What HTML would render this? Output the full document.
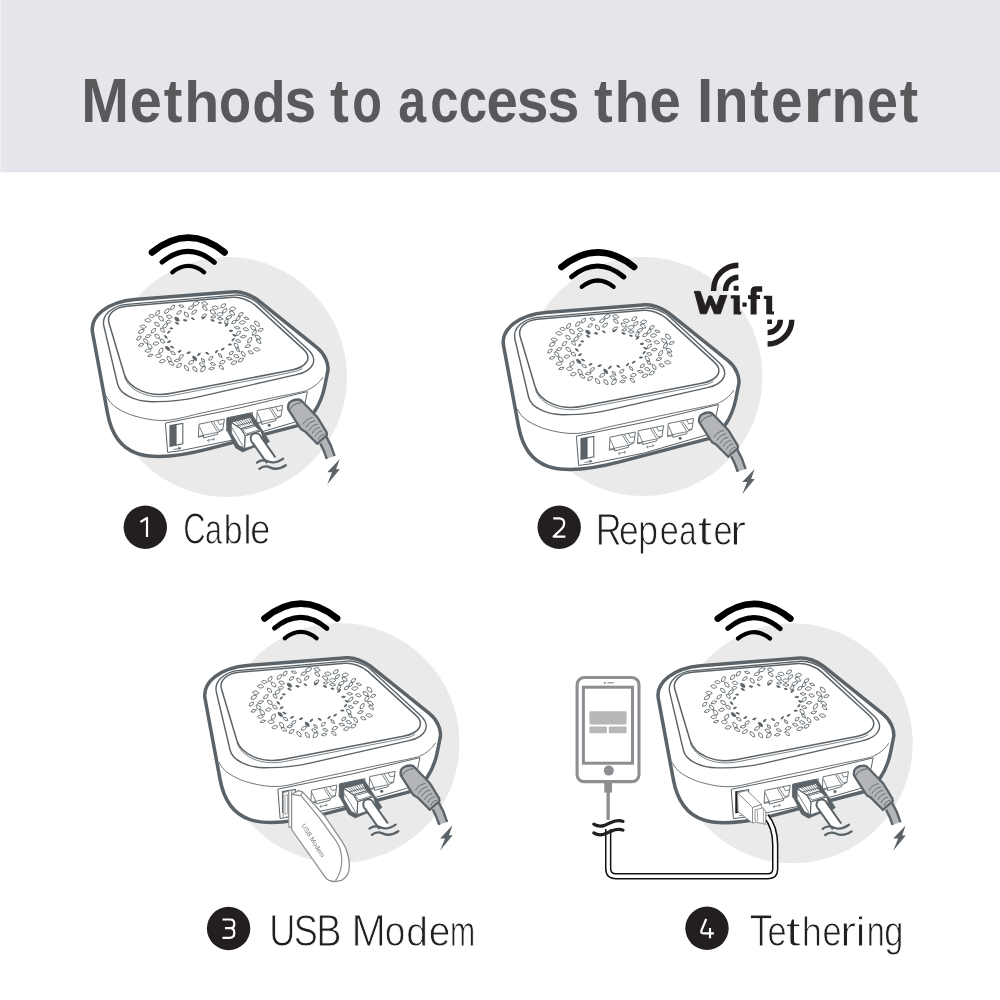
<!DOCTYPE html>
<html><head><meta charset="utf-8"><title>Methods to access the Internet</title>
<style>html,body{margin:0;padding:0;background:#fff;width:1000px;height:1000px;overflow:hidden}svg{display:block;will-change:transform}</style>
</head><body>
<svg width="1000" height="1000" viewBox="0 0 1000 1000">
<defs>
<g id="router"><path d="M92.57,332.7C89.51,316.18 108.16,301.56 134.95,299.47L234.24,291.73C240.94,291.21 251.35,294.93 257.9,300.19L317.04,347.66C324.47,353.62 329.19,363.91 327.77,371.05L324.81,385.97C321,405.19 309.49,422.52 298.65,425.35L209.45,448.65C143.97,465.75 115.43,455.88 107.55,413.41L92.57,332.7Z" fill="#fff" stroke="#5b6368" stroke-width="3.5" stroke-linejoin="round"/>
<path d="M106.2,396C106.92,397.08 108.7,400.5 110.5,402.5C112.3,404.5 114.42,406.28 117,408C119.58,409.72 122.83,411.4 126,412.8C129.17,414.2 131.67,415.23 136,416.4C140.33,417.57 147,419.13 152,419.8C157,420.47 161.33,420.67 166,420.4C170.67,420.13 173.5,419.55 180,418.2C186.5,416.85 190,415.6 205,412.3C220,409 254.17,401.75 270,398.4C285.83,395.05 293.58,393.67 300,392.2C306.42,390.73 306,390.7 308.5,389.6C311,388.5 313.17,386.95 315,385.6C316.83,384.25 318.17,382.93 319.5,381.5C320.83,380.07 322.42,377.75 323,377" fill="none" stroke="#5b6368" stroke-width="0.9"/>
<path d="M103.91,326.26C101.33,315.36 111.57,305.74 127.2,304.4L234.95,295.12C242.2,294.49 252.43,298.18 258.19,303.5L307.76,349.28C318.87,359.54 313.87,370.72 296.4,374.69L197.5,397.17C186.58,399.65 169.2,401.63 158,401.67L151.8,401.69C135,401.75 119.97,394.09 117.65,384.28L103.91,326.26Z" fill="none" stroke="#5b6368" stroke-width="1.4"/>
<path d="M109.07,323.33C106.51,314.75 114.15,307.19 126.42,306.16L232.45,297.28C239.7,296.68 249.95,300.36 255.73,305.65L303.23,349.08C312.73,357.77 307.24,367.1 290.74,370.29L171.47,393.32C149.48,397.56 128.68,389.09 124.2,374.07L109.07,323.33Z" fill="none" stroke="#5b6368" stroke-width="1.5"/>
<path d="M124.4,376.37 L125.04,378.21 L125.85,379.98 L126.81,381.68 L127.93,383.31 L129.19,384.85 L130.58,386.31 L132.11,387.69 L133.76,388.98 L135.53,390.18 L137.41,391.29 L139.39,392.3 L141.47,393.22 L143.64,394.03 L145.9,394.75 L148.23,395.35 L150.64,395.85 L153.11,396.24 L155.64,396.51 L158.22,396.67 L160.85,396.71 L163.51,396.63 L166.21,396.42 L168.93,396.08 L171.67,395.62 L176.64,394.66 L181.61,393.7 L186.58,392.74 L191.55,391.78 L196.52,390.82 L201.49,389.86 L206.46,388.9 L211.43,387.94 L216.4,386.98 L221.37,386.02 L226.34,385.06 L231.31,384.1 L236.28,383.14 L241.25,382.18 L246.22,381.22 L251.19,380.26 L256.16,379.3 L261.13,378.34 L266.1,377.39 L271.07,376.43 L276.04,375.47 L281,374.51 L296.61,371.12 L298.26,370.51 L299.78,369.86 L301.19,369.15 L302.47,368.4" fill="none" stroke="#5b6368" stroke-width="0.8"/>
<g stroke="#5b6368" stroke-width="0.8"><path transform="translate(181.26,356.46) rotate(-38.54)" d="M-2.71,0Q0,-2.91 2.71,0Q0,2.91 -2.71,0Z" fill="none"/><path transform="translate(176.96,319.21) rotate(38)" d="M-2.87,0Q0,-3.17 2.87,0Q0,3.17 -2.87,0Z" fill="#5b6368"/><path transform="translate(153.42,330.68) rotate(-42.81)" d="M-3.17,0Q0,-3.08 3.17,0Q0,3.08 -3.17,0Z" fill="none"/><path transform="translate(247.94,346.19) rotate(-16.25)" d="M-3.18,0Q0,-3.08 3.18,0Q0,3.08 -3.18,0Z" fill="none"/><path transform="translate(236.29,345.52) rotate(50.68)" d="M-3.23,0Q0,-3.35 3.23,0Q0,3.35 -3.23,0Z" fill="none"/><path transform="translate(147.99,350.7) rotate(-4.86)" d="M-3.17,0Q0,-3.2 3.17,0Q0,3.2 -3.17,0Z" fill="none"/><path transform="translate(231.32,352.92) rotate(-39.18)" d="M-2.69,0Q0,-2.84 2.69,0Q0,2.84 -2.69,0Z" fill="none"/><path transform="translate(157.56,312.97) rotate(-55.7)" d="M-3.16,0Q0,-3.31 3.16,0Q0,3.31 -3.16,0Z" fill="none"/><path transform="translate(157.01,324.29) rotate(42.03)" d="M-2.98,0Q0,-3.31 2.98,0Q0,3.31 -2.98,0Z" fill="none"/><path transform="translate(238.28,333.32) rotate(-46.64)" d="M-3.18,0Q0,-2.94 3.18,0Q0,2.94 -3.18,0Z" fill="none"/><path transform="translate(228.84,317.36) rotate(-26.71)" d="M-3.32,0Q0,-3.18 3.32,0Q0,3.18 -3.32,0Z" fill="none"/><path transform="translate(179.08,365.5) rotate(-37.11)" d="M-3.16,0Q0,-3.19 3.16,0Q0,3.19 -3.16,0Z" fill="none"/><path transform="translate(222.37,362.16) rotate(-19.42)" d="M-3.08,0Q0,-3.34 3.08,0Q0,3.34 -3.08,0Z" fill="none"/><path transform="translate(169.18,316.72) rotate(13.34)" d="M-3.03,0Q0,-3.36 3.03,0Q0,3.36 -3.03,0Z" fill="none"/><path transform="translate(162.53,330.19) rotate(47.44)" d="M-2.83,0Q0,-2.92 2.83,0Q0,2.92 -2.83,0Z" fill="none"/><path transform="translate(179.1,312.46) rotate(-37.39)" d="M-2.84,0Q0,-2.73 2.84,0Q0,2.73 -2.84,0Z" fill="none"/><path transform="translate(155.92,343.55) rotate(-11.13)" d="M-3,0Q0,-3.24 3,0Q0,3.24 -3,0Z" fill="none"/><path transform="translate(215.33,307.72) rotate(9.76)" d="M-3.29,0Q0,-3.51 3.29,0Q0,3.51 -3.29,0Z" fill="none"/><path transform="translate(201.96,364.7) rotate(29.01)" d="M-3.1,0Q0,-3.19 3.1,0Q0,3.19 -3.1,0Z" fill="none"/><path transform="translate(141.27,331.38) rotate(-30.65)" d="M-3.29,0Q0,-3.64 3.29,0Q0,3.64 -3.29,0Z" fill="none"/><path transform="translate(194.11,312.11) rotate(-41.73)" d="M-3.16,0Q0,-3 3.16,0Q0,3 -3.16,0Z" fill="none"/><path transform="translate(229.38,358.63) rotate(14.89)" d="M-3.05,0Q0,-2.89 3.05,0Q0,2.89 -3.05,0Z" fill="none"/><path transform="translate(204.83,308.22) rotate(40.2)" d="M-3.15,0Q0,-3 3.15,0Q0,3 -3.15,0Z" fill="none"/><path transform="translate(232.62,308.87) rotate(-10.01)" d="M-3.27,0Q0,-3.66 3.27,0Q0,3.66 -3.27,0Z" fill="none"/><path transform="translate(145.79,341.17) rotate(50)" d="M-3.13,0Q0,-3.39 3.13,0Q0,3.39 -3.13,0Z" fill="none"/><path transform="translate(219.94,314.41) rotate(-3.41)" d="M-3.35,0Q0,-3.7 3.35,0Q0,3.7 -3.35,0Z" fill="none"/><path transform="translate(158.54,355.78) rotate(2.79)" d="M-3.26,0Q0,-3.65 3.26,0Q0,3.65 -3.26,0Z" fill="none"/><path transform="translate(249.69,340.2) rotate(-55.8)" d="M-3.4,0Q0,-3.35 3.4,0Q0,3.35 -3.4,0Z" fill="none"/><path transform="translate(220.14,355.46) rotate(47.15)" d="M-2.79,0Q0,-2.64 2.79,0Q0,2.64 -2.79,0Z" fill="none"/><path transform="translate(143.21,326.64) rotate(8.55)" d="M-3.28,0Q0,-3.42 3.28,0Q0,3.42 -3.28,0Z" fill="none"/><path transform="translate(191.29,362.25) rotate(-33.92)" d="M-3.14,0Q0,-3.19 3.14,0Q0,3.19 -3.14,0Z" fill="none"/><path transform="translate(162.33,361.17) rotate(-15.41)" d="M-3.16,0Q0,-3.25 3.16,0Q0,3.25 -3.16,0Z" fill="none"/><path transform="translate(253.13,327.76) rotate(38.98)" d="M-3.27,0Q0,-3.63 3.27,0Q0,3.63 -3.27,0Z" fill="none"/><path transform="translate(246.39,318.24) rotate(16.78)" d="M-2.8,0Q0,-2.64 2.8,0Q0,2.64 -2.8,0Z" fill="none"/><path transform="translate(240.78,314.43) rotate(-35.76)" d="M-2.95,0Q0,-3.08 2.95,0Q0,3.08 -2.95,0Z" fill="none"/><path transform="translate(243.18,354) rotate(56.17)" d="M-3.11,0Q0,-3.11 3.11,0Q0,3.11 -3.11,0Z" fill="none"/><path transform="translate(210.82,358.26) rotate(-43.1)" d="M-2.83,0Q0,-2.86 2.83,0Q0,2.86 -2.83,0Z" fill="none"/><path transform="translate(258.69,341.48) rotate(37.44)" d="M-3.03,0Q0,-2.82 3.03,0Q0,2.82 -3.03,0Z" fill="none"/><path transform="translate(168.47,321.69) rotate(-5.59)" d="M-2.76,0Q0,-3.02 2.76,0Q0,3.02 -2.76,0Z" fill="none"/><path transform="translate(173.01,352.97) rotate(35.66)" d="M-2.84,0Q0,-2.66 2.84,0Q0,2.66 -2.84,0Z" fill="none"/><path transform="translate(223.26,305.8) rotate(-36.55)" d="M-3.15,0Q0,-3.29 3.15,0Q0,3.29 -3.15,0Z" fill="none"/><path transform="translate(256.99,323.65) rotate(49.01)" d="M-3.5,0Q0,-3.78 3.5,0Q0,3.78 -3.5,0Z" fill="none"/><path transform="translate(245.86,329.27) rotate(13.13)" d="M-2.9,0Q0,-3.18 2.9,0Q0,3.18 -2.9,0Z" fill="none"/><path transform="translate(166.86,310.99) rotate(-45.36)" d="M-3.23,0Q0,-3.3 3.23,0Q0,3.3 -3.23,0Z" fill="none"/><path transform="translate(171.3,363.34) rotate(33)" d="M-3.24,0Q0,-2.99 3.24,0Q0,2.99 -3.24,0Z" fill="none"/><path transform="translate(150.39,355.35) rotate(-17.53)" d="M-2.87,0Q0,-2.64 2.87,0Q0,2.64 -2.87,0Z" fill="none"/><path transform="translate(254.36,332.78) rotate(-53.53)" d="M-3.22,0Q0,-3.22 3.22,0Q0,3.22 -3.22,0Z" fill="none"/><path transform="translate(169.16,359.01) rotate(55.88)" d="M-3.33,0Q0,-3.65 3.33,0Q0,3.65 -3.33,0Z" fill="none"/><path transform="translate(240.9,360.04) rotate(-34.74)" d="M-3.1,0Q0,-3.24 3.1,0Q0,3.24 -3.1,0Z" fill="none"/><path transform="translate(147.98,320.31) rotate(8.2)" d="M-3.27,0Q0,-3.59 3.27,0Q0,3.59 -3.27,0Z" fill="none"/><path transform="translate(148.12,336.11) rotate(-17.48)" d="M-3.21,0Q0,-3.08 3.21,0Q0,3.08 -3.21,0Z" fill="none"/><path transform="translate(257.86,337.17) rotate(30.5)" d="M-3.43,0Q0,-3.3 3.43,0Q0,3.3 -3.43,0Z" fill="none"/><path transform="translate(242.41,322.48) rotate(-6.81)" d="M-3.33,0Q0,-3.53 3.33,0Q0,3.53 -3.33,0Z" fill="none"/><path transform="translate(161.03,318.57) rotate(45.11)" d="M-3.31,0Q0,-3.6 3.31,0Q0,3.6 -3.31,0Z" fill="none"/><path transform="translate(181.34,306.15) rotate(13.78)" d="M-2.87,0Q0,-2.68 2.87,0Q0,2.68 -2.87,0Z" fill="none"/><path transform="translate(211.59,368.5) rotate(-7.91)" d="M-2.91,0Q0,-2.95 2.91,0Q0,2.95 -2.91,0Z" fill="none"/><path transform="translate(256.74,349.39) rotate(7.24)" d="M-3.45,0Q0,-3.36 3.45,0Q0,3.36 -3.45,0Z" fill="none"/><path transform="translate(194.71,358.31) rotate(49.13)" d="M-2.93,0Q0,-2.87 2.93,0Q0,2.87 -2.93,0Z" fill="#5b6368"/><path transform="translate(157.32,336.39) rotate(40.48)" d="M-3.16,0Q0,-3.45 3.16,0Q0,3.45 -3.16,0Z" fill="none"/><path transform="translate(237.19,327.73) rotate(6.93)" d="M-3.01,0Q0,-2.91 3.01,0Q0,2.91 -3.01,0Z" fill="none"/><path transform="translate(160.92,350.68) rotate(-56.7)" d="M-3.26,0Q0,-3.61 3.26,0Q0,3.61 -3.26,0Z" fill="none"/><path transform="translate(250.68,352.33) rotate(24.19)" d="M-2.86,0Q0,-2.86 2.86,0Q0,2.86 -2.86,0Z" fill="none"/><path transform="translate(194.91,369.08) rotate(51.51)" d="M-3.2,0Q0,-3.34 3.2,0Q0,3.34 -3.2,0Z" fill="none"/><path transform="translate(191.19,307.62) rotate(-26.32)" d="M-3.12,0Q0,-3.08 3.12,0Q0,3.08 -3.12,0Z" fill="none"/><path transform="translate(196.07,303.53) rotate(-20.99)" d="M-3.51,0Q0,-3.68 3.51,0Q0,3.68 -3.51,0Z" fill="none"/><path transform="translate(233.98,322.04) rotate(-35.32)" d="M-2.75,0Q0,-3.02 2.75,0Q0,3.02 -2.75,0Z" fill="none"/><path transform="translate(212.96,363.95) rotate(19.41)" d="M-2.86,0Q0,-2.91 2.86,0Q0,2.91 -2.86,0Z" fill="none"/><path transform="translate(186.52,368.1) rotate(51.38)" d="M-3.46,0Q0,-3.25 3.46,0Q0,3.25 -3.46,0Z" fill="none"/><path transform="translate(203.07,360.41) rotate(47.21)" d="M-2.7,0Q0,-2.71 2.7,0Q0,2.71 -2.7,0Z" fill="none"/><path transform="translate(204.03,315.89) rotate(-34.93)" d="M-3,0Q0,-2.98 3,0Q0,2.98 -3,0Z" fill="none"/><path transform="translate(238.28,340.96) rotate(18.51)" d="M-2.81,0Q0,-3.11 2.81,0Q0,3.11 -2.81,0Z" fill="none"/><path transform="translate(234.05,362.63) rotate(-21.41)" d="M-3.2,0Q0,-3.4 3.2,0Q0,3.4 -3.2,0Z" fill="none"/><path transform="translate(221.35,367.36) rotate(41.34)" d="M-3.04,0Q0,-2.84 3.04,0Q0,2.84 -3.04,0Z" fill="none"/><path transform="translate(138.95,338.07) rotate(-41.51)" d="M-3,0Q0,-2.92 3,0Q0,2.92 -3,0Z" fill="none"/><path transform="translate(232.06,313.2) rotate(34.75)" d="M-3.16,0Q0,-3.43 3.16,0Q0,3.43 -3.16,0Z" fill="none"/><path transform="translate(243.37,336.59) rotate(-9.9)" d="M-2.95,0Q0,-2.94 2.95,0Q0,2.94 -2.95,0Z" fill="none"/><path transform="translate(204.71,303.53) rotate(12.99)" d="M-3.19,0Q0,-3.52 3.19,0Q0,3.52 -3.19,0Z" fill="none"/><path transform="translate(172.57,307.46) rotate(-51.56)" d="M-3.04,0Q0,-3.18 3.04,0Q0,3.18 -3.04,0Z" fill="none"/><path transform="translate(141.14,344.86) rotate(-17.71)" d="M-3.02,0Q0,-2.98 3.02,0Q0,2.98 -3.02,0Z" fill="none"/><path transform="translate(220.17,318.7) rotate(4.98)" d="M-3.1,0Q0,-2.94 3.1,0Q0,2.94 -3.1,0Z" fill="none"/><path transform="translate(186.39,314.46) rotate(50.91)" d="M-3.16,0Q0,-3.41 3.16,0Q0,3.41 -3.16,0Z" fill="none"/><path transform="translate(165.14,325.89) rotate(-42.41)" d="M-3.15,0Q0,-3.38 3.15,0Q0,3.38 -3.15,0Z" fill="none"/><path transform="translate(167.74,348.43) rotate(41.31)" d="M-2.95,0Q0,-2.86 2.95,0Q0,2.86 -2.95,0Z" fill="#5b6368"/><path transform="translate(237.8,349.72) rotate(44.35)" d="M-2.9,0Q0,-2.74 2.9,0Q0,2.74 -2.9,0Z" fill="none"/><path transform="translate(177.28,360.47) rotate(-9.11)" d="M-3.14,0Q0,-2.98 3.14,0Q0,2.98 -3.14,0Z" fill="none"/><path transform="translate(212.82,312.01) rotate(34.15)" d="M-3.31,0Q0,-3.62 3.31,0Q0,3.62 -3.31,0Z" fill="none"/><path transform="translate(162.4,341.07) rotate(40.08)" d="M-2.88,0Q0,-3.11 2.88,0Q0,3.11 -2.88,0Z" fill="none"/><path transform="translate(151.69,315.96) rotate(6.06)" d="M-2.84,0Q0,-3.11 2.84,0Q0,3.11 -2.84,0Z" fill="none"/><path transform="translate(224.73,310.74) rotate(-43.78)" d="M-3.1,0Q0,-3 3.1,0Q0,3 -3.1,0Z" fill="none"/><path transform="translate(213.39,316.88) rotate(-7.75)" d="M-2.65,0Q0,-2.57 2.65,0Q0,2.57 -2.65,0Z" fill="none"/><path transform="translate(238.2,318.41) rotate(-52.71)" d="M-2.84,0Q0,-2.96 2.84,0Q0,2.96 -2.84,0Z" fill="none"/><path transform="translate(226.35,321.35) rotate(-55.03)" d="M-2.72,0Q0,-2.95 2.72,0Q0,2.95 -2.72,0Z" fill="none"/><path transform="translate(149.75,346.35) rotate(47.2)" d="M-3.25,0Q0,-3.59 3.25,0Q0,3.59 -3.25,0Z" fill="none"/><path transform="translate(260.62,329.91) rotate(-21.98)" d="M-2.84,0Q0,-2.77 2.84,0Q0,2.77 -2.84,0Z" fill="none"/><path transform="translate(203.04,369.07) rotate(-48.09)" d="M-3.47,0Q0,-3.71 3.47,0Q0,3.71 -3.47,0Z" fill="none"/><path transform="translate(236.37,356.2) rotate(21.26)" d="M-2.95,0Q0,-3.14 2.95,0Q0,3.14 -2.95,0Z" fill="none"/><path transform="translate(233.1,339.57) rotate(-49.24)" d="M-1.82,0Q0,-1.53 1.82,0Q0,1.53 -1.82,0Z" fill="#5b6368"/><path transform="translate(229.92,344.53) rotate(0.29)" d="M-1.83,0Q0,-1.54 1.83,0Q0,1.54 -1.83,0Z" fill="#5b6368"/><path transform="translate(222.71,349.12) rotate(-33.4)" d="M-1.86,0Q0,-1.57 1.86,0Q0,1.57 -1.86,0Z" fill="#5b6368"/><path transform="translate(216.52,351.59) rotate(-47.11)" d="M-1.83,0Q0,-1.54 1.83,0Q0,1.54 -1.83,0Z" fill="#5b6368"/><path transform="translate(207.29,353.33) rotate(30.06)" d="M-1.88,0Q0,-1.58 1.88,0Q0,1.58 -1.88,0Z" fill="#5b6368"/><path transform="translate(198.9,354.37) rotate(-42.73)" d="M-2.03,0Q0,-1.7 2.03,0Q0,1.7 -2.03,0Z" fill="#5b6368"/><path transform="translate(188.62,352.7) rotate(-18.09)" d="M-1.96,0Q0,-1.65 1.96,0Q0,1.65 -1.96,0Z" fill="#5b6368"/><path transform="translate(179.5,351.36) rotate(-23.67)" d="M-1.83,0Q0,-1.54 1.83,0Q0,1.54 -1.83,0Z" fill="#5b6368"/><path transform="translate(171.99,347.1) rotate(23.43)" d="M-1.89,0Q0,-1.59 1.89,0Q0,1.59 -1.89,0Z" fill="#5b6368"/><path transform="translate(169.08,341.73) rotate(-21.07)" d="M-1.89,0Q0,-1.59 1.89,0Q0,1.59 -1.89,0Z" fill="#5b6368"/><path transform="translate(165.84,336.89) rotate(45.92)" d="M-2.03,0Q0,-1.71 2.03,0Q0,1.71 -2.03,0Z" fill="#5b6368"/><path transform="translate(168.79,332.06) rotate(-40.69)" d="M-1.75,0Q0,-1.47 1.75,0Q0,1.47 -1.75,0Z" fill="#5b6368"/><path transform="translate(171.37,328.39) rotate(1.82)" d="M-1.67,0Q0,-1.4 1.67,0Q0,1.4 -1.67,0Z" fill="#5b6368"/><path transform="translate(176.98,323.22) rotate(28.41)" d="M-2,0Q0,-1.68 2,0Q0,1.68 -2,0Z" fill="#5b6368"/><path transform="translate(185.09,320.29) rotate(10.02)" d="M-1.96,0Q0,-1.65 1.96,0Q0,1.65 -1.96,0Z" fill="#5b6368"/><path transform="translate(192.87,318.73) rotate(30.02)" d="M-1.73,0Q0,-1.45 1.73,0Q0,1.45 -1.73,0Z" fill="#5b6368"/><path transform="translate(203.52,317.9) rotate(-31.41)" d="M-1.98,0Q0,-1.66 1.98,0Q0,1.66 -1.98,0Z" fill="#5b6368"/><path transform="translate(212.53,320.43) rotate(16.66)" d="M-1.99,0Q0,-1.67 1.99,0Q0,1.67 -1.99,0Z" fill="#5b6368"/><path transform="translate(219.95,322.74) rotate(9.15)" d="M-1.65,0Q0,-1.39 1.65,0Q0,1.39 -1.65,0Z" fill="#5b6368"/><path transform="translate(226.61,324.83) rotate(-42.32)" d="M-2.13,0Q0,-1.79 2.13,0Q0,1.79 -2.13,0Z" fill="#5b6368"/><path transform="translate(231.02,330.83) rotate(-3.36)" d="M-1.94,0Q0,-1.63 1.94,0Q0,1.63 -1.94,0Z" fill="#5b6368"/><path transform="translate(234.33,335.3) rotate(22.12)" d="M-1.88,0Q0,-1.58 1.88,0Q0,1.58 -1.88,0Z" fill="#5b6368"/></g>
<path d="M165.4,423.1 L240,407.9 L307.4,391.6 L305.2,402.4 L300.5,419.5 L294,422.4 L233.2,440 L180,450.8 L167.6,452.4Z" fill="#fff" stroke="#5b6368" stroke-width="1" stroke-linejoin="round"/>
<path d="M170,425.6 L182.8,423.4 L182.8,443.9 L170,446.4Z" fill="#fff" stroke="#5b6368" stroke-width="1.1"/>
<path d="M170,425.6 L176.6,424.5 L176.6,445.2 L170,446.4Z" fill="#5b6368"/>
<path d="M173.5,449.5 L181,448.2 M178,447 L181,448.2 L178.5,449.8" fill="none" stroke="#5b6368" stroke-width="0.8"/>
<path d="M199,424.2 L224.4,419 L222.8,430 L217.6,432.4 L217.6,434.2 L203.6,438 L203.6,436.2 L198.3,437.2Z" fill="#fff" stroke="#5b6368" stroke-width="0.9" stroke-linejoin="round"/>
<path d="M199.4,426.5 L203.7,436.3" fill="none" stroke="#5b6368" stroke-width="0.8"/>
<path d="M198.5,436.3 L217.4,432.3" fill="none" stroke="#5b6368" stroke-width="0.8"/>
<path d="M211.4,422.2 L217.3,431.6" fill="none" stroke="#5b6368" stroke-width="0.8"/>
<path d="M213.4,421.8 L218.8,430.2" fill="none" stroke="#5b6368" stroke-width="0.8"/>
<path d="M217.4,420.5 L219.5,424.5 L223.6,423.6" fill="none" stroke="#5b6368" stroke-width="0.8"/>
<path d="M218.8,430.2 L222.8,429.6" fill="none" stroke="#5b6368" stroke-width="0.8"/>
<path d="M207.4,440.5 L214.6,439.1 M208.8,439.2 L207.4,440.5 L209,441.8 M213,437.8 L214.6,439.1 L213.2,440.4" fill="none" stroke="#5b6368" stroke-width="0.7"/>
<path d="M227.2,417.8 L252.6,412.6 L251,423.6 L245.8,426 L245.8,427.8 L231.8,431.6 L231.8,429.8 L226.5,430.8Z" fill="#fff" stroke="#5b6368" stroke-width="0.9" stroke-linejoin="round"/>
<path d="M227.6,420.1 L231.9,429.9" fill="none" stroke="#5b6368" stroke-width="0.8"/>
<path d="M226.7,429.9 L245.6,425.9" fill="none" stroke="#5b6368" stroke-width="0.8"/>
<path d="M239.6,415.8 L245.5,425.2" fill="none" stroke="#5b6368" stroke-width="0.8"/>
<path d="M241.6,415.4 L247,423.8" fill="none" stroke="#5b6368" stroke-width="0.8"/>
<path d="M245.6,414.1 L247.7,418.1 L251.8,417.2" fill="none" stroke="#5b6368" stroke-width="0.8"/>
<path d="M247,423.8 L251,423.2" fill="none" stroke="#5b6368" stroke-width="0.8"/>
<path d="M235.6,434.1 L242.8,432.7 M237,432.8 L235.6,434.1 L237.2,435.4 M241.2,431.4 L242.8,432.7 L241.4,434" fill="none" stroke="#5b6368" stroke-width="0.7"/>
<path d="M257.2,410.6 L282.6,405.4 L281,416.4 L275.8,418.8 L275.8,420.6 L261.8,424.4 L261.8,422.6 L256.5,423.6Z" fill="#fff" stroke="#5b6368" stroke-width="0.9" stroke-linejoin="round"/>
<path d="M257.6,412.9 L261.9,422.7" fill="none" stroke="#5b6368" stroke-width="0.8"/>
<path d="M256.7,422.7 L275.6,418.7" fill="none" stroke="#5b6368" stroke-width="0.8"/>
<path d="M269.6,408.6 L275.5,418" fill="none" stroke="#5b6368" stroke-width="0.8"/>
<path d="M271.6,408.2 L277,416.6" fill="none" stroke="#5b6368" stroke-width="0.8"/>
<path d="M275.6,406.9 L277.7,410.9 L281.8,410" fill="none" stroke="#5b6368" stroke-width="0.8"/>
<path d="M277,416.6 L281,416" fill="none" stroke="#5b6368" stroke-width="0.8"/>
<circle cx="269.2" cy="425.2" r="1.5" fill="#5b6368"/></g>
<g id="wifi"><g fill="none" stroke="#000" stroke-linecap="round"><path d="M152,252.4 Q188.4,223 224.6,252.4" stroke-width="6.6"/><path d="M162,262.2 Q188.3,240.5 214.4,262.4" stroke-width="4.9"/><path d="M172.2,272.3 Q188.3,259.5 204.2,272.3" stroke-width="4.2"/></g></g>
<g id="rj45"><path d="M226.7,418.3 L250.7,413 L252.2,414.6 L269.6,441.4 L262,447 L253.2,447.6 L242.7,452 L235.7,448 L231,438 L227.2,431Z" fill="#5b6368" stroke="#5b6368" stroke-width="0.6" stroke-linejoin="round"/>
<path d="M231.2,422.3 L250.2,417.3 L254.2,424.8 L240.7,428.8Z" fill="#fff" stroke="#5b6368" stroke-width="1"/>
<path d="M235.2,421.3 L240.7,426.8" stroke="#5b6368" stroke-width="0.8"/>
<path d="M237.37,420.72 L242.62,426.3" stroke="#5b6368" stroke-width="0.8"/>
<path d="M239.53,420.13 L244.53,425.8" stroke="#5b6368" stroke-width="0.8"/>
<path d="M241.7,419.55 L246.45,425.3" stroke="#5b6368" stroke-width="0.8"/>
<path d="M243.87,418.97 L248.37,424.8" stroke="#5b6368" stroke-width="0.8"/>
<path d="M246.03,418.38 L250.28,424.3" stroke="#5b6368" stroke-width="0.8"/>
<path d="M248.2,417.8 L252.2,423.8" stroke="#5b6368" stroke-width="0.8"/>
<path d="M236,426 L253,421.6" stroke="#5b6368" stroke-width="0.8"/>
<path d="M240.7,428.8 L254.2,424.8 L261.2,430.8 L245.2,435.8Z" fill="#fff" stroke="#5b6368" stroke-width="1.1" stroke-linejoin="round"/>
<path d="M242.6,429.6 L255.2,426.1 L259.2,429.9 L246.4,433.9Z" fill="none" stroke="#5b6368" stroke-width="0.8"/>
<path d="M231.2,422.3 L240.7,428.8 L245.2,435.8 L244.7,448.8 L238.5,445.6 L231.2,433Z" fill="#fff" stroke="#5b6368" stroke-width="1.1" stroke-linejoin="round"/>
<path d="M231.9,427.6 L243.6,447.2" stroke="#5b6368" stroke-width="0.8"/>
<path d="M245.2,435.8 L261.2,430.8 L263.6,440.2 L252,446.2 L244.7,448.8Z" fill="#fff" stroke="#5b6368" stroke-width="1.1" stroke-linejoin="round"/>
<path d="M255.8,438.4 L271.2,460.2" stroke="#5b6368" stroke-width="12.2" stroke-linecap="butt"/>
<circle cx="255.8" cy="438.4" r="6.1" fill="#5b6368"/>
<path d="M255.8,438.4 L272.4,462" stroke="#fff" stroke-width="8.2" stroke-linecap="butt"/>
<circle cx="255.8" cy="438.4" r="4.1" fill="#fff"/>
<path d="M256.9,462.6 Q262,458.6 268,461.4 Q275,464.4 283.2,458.6 M259.4,468.8 Q264.5,464.8 270.5,467.6 Q277.5,470.8 285.8,465.2" fill="none" stroke="#5b6368" stroke-width="2.3" stroke-linecap="round"/></g>
<g id="power"><path d="M320.2,443.4 Q324.4,450.8 326.8,458.8 L334.6,456 Q331.8,445.8 326.2,436.4 Z" fill="#b3b5b8"/>
<path d="M320.2,443.4 Q324.4,450.8 326.8,458.8 M334.6,456 Q331.8,445.8 326.2,436.4" fill="none" stroke="#5b6368" stroke-width="2.4"/>
<path d="M288.2,409.2 Q287.4,404 290.6,401.6 Q294,399.3 298.6,399.5 Q300.8,399.7 302,401.3 L317.2,417 L318.6,419.2 L326.6,432.4 L327,435 L317.2,443.8 L315.6,442 L305,431.4 L301.2,429.2 L299.8,427.4 Z" fill="#b3b5b8" stroke="#5b6368" stroke-width="2.3" stroke-linejoin="round"/>
<path d="M302.9,424.4 Q306.2,418.7 312.7,417.4" fill="none" stroke="#5b6368" stroke-width="0.9"/>
<path d="M305.98,427.48 Q308.93,421.92 315.08,420.76" fill="none" stroke="#5b6368" stroke-width="0.9"/>
<path d="M309.06,430.56 Q311.66,425.14 317.46,424.12" fill="none" stroke="#5b6368" stroke-width="0.9"/>
<path d="M312.14,433.64 Q314.39,428.36 319.84,427.48" fill="none" stroke="#5b6368" stroke-width="0.9"/>
<path d="M315.22,436.72 Q317.12,431.58 322.22,430.84" fill="none" stroke="#5b6368" stroke-width="0.9"/>
<path d="M318.3,439.8 Q319.85,434.8 324.6,434.2" fill="none" stroke="#5b6368" stroke-width="0.9"/>
<path d="M289.6,409.8 Q292.6,403.6 301.2,402.6" fill="none" stroke="#5b6368" stroke-width="1"/></g>
<g id="bolt"><path d="M0,0 L-12.4,13.1 L-7.5,13.1 L-12.4,25.2 L0.2,10 L-3.5,10Z" fill="#5b6368"/></g>
</defs>
<rect x="0" y="0" width="1000" height="1000" fill="#fff"/>
<rect x="0" y="0" width="1000" height="172.3" fill="#e6e5eb"/><rect x="0" y="0" width="1.2" height="172.3" fill="#eeeef1"/>
<g font-family="Liberation Sans" font-weight="bold" font-size="62.5" fill="#58595b"><text transform="translate(81.14,121.5) scale(0.9159,1.0000)">M</text><text transform="translate(129.85,121.5) scale(0.9226,1.0000)">e</text><text transform="translate(163.81,121.5) scale(0.8947,0.9805)">t</text><text transform="translate(184.13,121.5) scale(0.9167,0.9304)">h</text><text transform="translate(219.12,121.5) scale(0.8412,1.0000)">o</text><text transform="translate(252.28,121.5) scale(0.8742,0.9304)">d</text><text transform="translate(284.47,121.5) scale(0.9103,1.0000)">s</text><text transform="translate(330.09,121.5) scale(0.9053,0.9805)">t</text><text transform="translate(352.15,121.5) scale(0.7765,1.0000)">o</text><text transform="translate(398.3,121.5) scale(0.8000,1.0000)">a</text><text transform="translate(430.17,121.5) scale(0.8161,1.0000)">c</text><text transform="translate(458.77,121.5) scale(0.8161,1.0000)">c</text><text transform="translate(486.6,121.5) scale(0.9000,1.0000)">e</text><text transform="translate(516.87,121.5) scale(0.9103,1.0000)">s</text><text transform="translate(547.23,121.5) scale(0.9241,1.0000)">s</text><text transform="translate(594,121.5) scale(0.9000,0.9805)">t</text><text transform="translate(614.56,121.5) scale(0.9100,0.9304)">h</text><text transform="translate(649.4,121.5) scale(0.9000,1.0000)">e</text><text transform="translate(697.07,121.5) scale(0.9333,1.0000)">I</text><text transform="translate(713.99,121.5) scale(0.9033,1.0000)">n</text><text transform="translate(750.32,121.5) scale(0.8842,0.9805)">t</text><text transform="translate(770.99,121.5) scale(0.9065,1.0000)">e</text><text transform="translate(802.91,121.5) scale(1.1737,1.0000)">r</text><text transform="translate(831.59,121.5) scale(0.9033,1.0000)">n</text><text transform="translate(867.02,121.5) scale(0.8903,1.0000)">e</text><text transform="translate(899.82,121.5) scale(0.8842,0.9805)">t</text></g>
<circle cx="227" cy="377" r="120" fill="#eaeaea"/>
<circle cx="643" cy="376.5" r="119.5" fill="#eaeaea"/>
<circle cx="339.5" cy="743" r="120" fill="#eaeaea"/>
<circle cx="792.8" cy="743.2" r="120" fill="#eaeaea"/>
<use href="#wifi" transform="translate(0,0)"/>
<use href="#router" transform="translate(0,0)"/>
<use href="#rj45" transform="translate(0,0)"/>
<use href="#power" transform="translate(0,0)"/>
<use href="#bolt" transform="translate(339.6,459.2)"/>
<use href="#wifi" transform="translate(409.5,14.6)"/>
<use href="#router" transform="translate(411,13)"/>
<use href="#power" transform="translate(411,13)"/>
<use href="#bolt" transform="translate(754.6,469)"/>
<g fill="#231f20" stroke="none">
<path d="M694.2,291.4 L700.2,291.4 L705.3,306.4 L708.9,296 L711.7,296 L716.3,306.4 L720,295.5 L726.8,295.5 L720.4,313.8 L714.4,313.8 L710.3,303.8 L706.4,313.8 L700.4,313.8 L695.2,294.2Z" stroke="#231f20" stroke-width="0.9" stroke-linejoin="round"/>
<rect x="733.6" y="295.3" width="6.2" height="19.1"/><rect x="730.8" y="295.3" width="4" height="3.2"/><rect x="738" y="311.6" width="3.2" height="2.8"/>
<rect x="733.6" y="285.7" width="5" height="5" rx="0.8"/>
<rect x="742.4" y="302.4" width="4.3" height="4.3" rx="0.6"/>
<path d="M750.6,314.5 L750.6,291.5 Q750.6,286.3 756,286.3 L762.2,286.3 L762.2,291.8 L756.6,291.8 L756.6,314.5Z"/>
<rect x="748" y="295.2" width="12" height="3.9"/>
<rect x="766.2" y="295.8" width="6" height="18.5"/><rect x="763.8" y="295.8" width="3.5" height="3.2"/><rect x="771" y="311.4" width="3" height="3"/>
<rect x="767.2" y="319.4" width="4.8" height="4.6" rx="0.6"/>
</g>
<g fill="none" stroke="#231f20" stroke-width="5.4">
<path d="M713.6,290.9 L713.6,290 A24.8,24.8 0 0 1 738.4,265.2"/>
<path d="M725.6,290.9 L725.6,290 A12.8,12.8 0 0 1 738.4,277.2"/>
<path d="M780.4,319.8 A12.8,12.8 0 0 1 767.6,332.6"/>
<path d="M791.8,319.8 A24.2,24.2 0 0 1 767.6,344"/>
</g>
<use href="#wifi" transform="translate(112.5,366)"/>
<use href="#router" transform="translate(112.5,366)"/>
<use href="#rj45" transform="translate(112.5,366)"/>
<use href="#power" transform="translate(112.5,366)"/>
<use href="#bolt" transform="translate(452.5,825.3)"/>
<path d="M283.2,792.4 L288.6,791.4 L288.6,816.6 L283.2,817.8Z" fill="#fff" stroke="#8c8e91" stroke-width="1"/>
<path d="M285,795.2 L287.6,794.7 L287.6,813.6 L285,814.3Z" fill="none" stroke="#8c8e91" stroke-width="0.8"/>
<path d="M288.8,790.8 L291.6,790.3 L291.6,826.5 L288.8,827.4Z" fill="#fff" stroke="#8c8e91" stroke-width="1"/>
<path d="M291.6,794.3 L298.6,790.6 L302.6,791.9 L324.8,816.2 L341.8,841.2 Q348.6,851 349.4,865 Q349.8,876 341.5,880.4 Q334.5,882.6 329,880.3 Q326.6,879.2 325.4,877.4 L291.6,829.5Z" fill="#fff" stroke="#8c8e91" stroke-width="1.3" stroke-linejoin="round"/>
<path d="M291.6,794.3 L300.9,795.6 L302.6,791.9 M300.9,795.6 L318.5,816.6 L336.2,841.2 Q341.6,849.5 341.8,860 Q341.8,872 335.5,880.6" fill="none" stroke="#8c8e91" stroke-width="1.2" stroke-linejoin="round"/>
<text transform="translate(301.2,825.6) rotate(58)" font-family="Liberation Sans" font-size="6.6" fill="#6f7174" textLength="38" lengthAdjust="spacingAndGlyphs">USB Modem</text>
<use href="#wifi" transform="translate(565.8,366.2)"/>
<use href="#router" transform="translate(565.8,366.2)"/>
<use href="#rj45" transform="translate(565.8,366.2)"/>
<use href="#power" transform="translate(565.8,366.2)"/>
<use href="#bolt" transform="translate(905.6,825.5)"/>
<rect x="604.3" y="782.2" width="7.7" height="10.4" fill="#8c8e91"/>
<rect x="606.5" y="792" width="3.3" height="28" fill="#8c8e91"/>
<rect x="577.1" y="677.5" width="61.9" height="104.1" rx="7" fill="#fff" stroke="#8c8e91" stroke-width="3.1"/>
<rect x="583.4" y="687.2" width="49.1" height="76" fill="#fff" stroke="#8c8e91" stroke-width="3"/>
<circle cx="604.8" cy="682.8" r="1.1" fill="#8c8e91"/><rect x="607.4" y="682.2" width="6.4" height="1.2" fill="#8c8e91"/>
<rect x="589.4" y="711.2" width="37.2" height="13.2" rx="1.4" fill="#b6b7b9"/>
<rect x="589.4" y="726.6" width="17.5" height="6.6" rx="1.2" fill="#b6b7b9"/>
<rect x="608.8" y="726.6" width="17.8" height="6.6" rx="1.2" fill="#b6b7b9"/>
<circle cx="608.8" cy="770.6" r="5" fill="#8c8e91"/>
<path d="M608.2,829 L608.2,868.5 Q608.2,876.2 616,876.2 L768,876.2 Q775.2,876.2 775.2,869 L775.2,845 Q775.2,827 766,816" fill="none" stroke="#111" stroke-width="6.4"/>
<path d="M608.2,829 L608.2,868.5 Q608.2,876.2 616,876.2 L768,876.2 Q775.2,876.2 775.2,869 L775.2,845 Q775.2,827 766,816" fill="none" stroke="#fff" stroke-width="3.4"/>
<path d="M593.8,824.2 Q598.5,827.2 604,825.6 Q610,822.6 615,821 Q620,820 623,821.4 M593.8,832.9 Q598.5,835.9 604,834.3 Q610,831.3 615,829.7 Q620,828.7 623,830.1" fill="none" stroke="#231f20" stroke-width="3.2" stroke-linecap="round"/>
<path d="M735.6,791.6 L737.8,791.4 L737.8,813 L735.6,813.2Z" fill="#222"/>
<path d="M737.5,792.8 L747,790.5 L761.5,804.5 L752.5,807.5Z" fill="#fff" stroke="#8c8e91" stroke-width="1" stroke-linejoin="round"/>
<path d="M737.5,792.8 L752.5,807.5 L752.5,823 L738,811.5Z" fill="#fff" stroke="#8c8e91" stroke-width="1" stroke-linejoin="round"/>
<path d="M752.5,807.5 L761.5,804.5 L762.2,820.5 L752.5,823Z" fill="#fff" stroke="#8c8e91" stroke-width="1" stroke-linejoin="round"/>
<path d="M755,810 L763.2,807.8 L765.8,812 L765.6,824.6 L762.8,823.5 L756.8,822.5 L755,820Z" fill="#fff" stroke="#8c8e91" stroke-width="1" stroke-linejoin="round"/>
<path d="M757.6,810.5 L757.6,821.2 M763.4,808.2 L763.4,823.6" fill="none" stroke="#8c8e91" stroke-width="0.8"/>
<circle cx="145.3" cy="527.2" r="21.7" fill="#231f20"/><path d="M140.5,522 L147,517.9 L147,537.1" fill="none" stroke="#fff" stroke-width="2.2" stroke-linejoin="round"/><g font-family="Liberation Sans" font-size="43" fill="#231f20" stroke="#fff" stroke-width="0.9"><text transform="translate(183.34,544.4) scale(0.7200,1.0300)">C</text><text transform="translate(205.07,544.4) scale(0.7143,1.0000)">a</text><text transform="translate(223.63,544.4) scale(0.7895,0.9400)">b</text><text transform="translate(243.5,544.4) scale(0.8333,0.9400)">l</text><text transform="translate(250.32,544.4) scale(0.8421,1.0000)">e</text></g>
<circle cx="559.2" cy="527.3" r="21.7" fill="#231f20"/><path d="M553.3,518.3 L559.2,518.3 Q564.2,518.3 564.2,523.3 Q564.2,526.5 561.5,529 L553.6,536.6 L565.4,536.6" fill="none" stroke="#fff" stroke-width="2.2" stroke-linejoin="round"/><g font-family="Liberation Sans" font-size="43" fill="#231f20" stroke="#fff" stroke-width="0.9"><text transform="translate(595.66,544.8) scale(0.8348,1.0300)">R</text><text transform="translate(618.95,544.8) scale(0.8263,1.0000)">e</text><text transform="translate(638.07,544.8) scale(0.8421,1.0000)">p</text><text transform="translate(659.8,544.8) scale(0.8000,1.0000)">e</text><text transform="translate(679.15,544.8) scale(0.7238,1.0000)">a</text><text transform="translate(697.8,544.8) scale(1.2000,0.9400)">t</text><text transform="translate(713.4,544.8) scale(0.8000,1.0000)">e</text><text transform="translate(730.04,544.8) scale(1.1200,1.0000)">r</text></g>
<circle cx="228.6" cy="928.5" r="21.7" fill="#231f20"/><path d="M222.5,919.5 L230,919.5 Q234.3,919.5 234.3,923.8 Q234.3,928.2 230.5,928.2 L225,928.2 M230.5,928.2 Q234.3,928.2 234.3,933 Q234.3,937.8 229.5,937.8 L222.5,937.8" fill="none" stroke="#fff" stroke-width="2.2" stroke-linejoin="round"/><g font-family="Liberation Sans" font-size="43" fill="#231f20" stroke="#fff" stroke-width="0.9"><text transform="translate(269.13,946.4) scale(0.8435,1.0300)">U</text><text transform="translate(293.68,946.4) scale(0.8391,1.0300)">S</text><text transform="translate(316.27,946.4) scale(0.8818,1.0300)">B</text><text transform="translate(351.46,946.4) scale(0.9607,1.0300)">M</text><text transform="translate(384.78,946.4) scale(0.8600,1.0000)">o</text><text transform="translate(406.19,946.4) scale(0.9053,0.9400)">d</text><text transform="translate(428.79,946.4) scale(0.9053,1.0000)">e</text><text transform="translate(449.99,946.4) scale(0.7034,1.0000)">m</text></g>
<circle cx="707" cy="928.3" r="21.7" fill="#231f20"/><path d="M706.2,919 L701.4,930.6 Q700.6,933.4 703.4,933.4 L713.9,933.4 M710,928 L710,938.2" fill="none" stroke="#fff" stroke-width="2.2" stroke-linejoin="round"/><g font-family="Liberation Sans" font-size="43" fill="#231f20" stroke="#fff" stroke-width="0.9"><text transform="translate(749.73,945.6) scale(0.8667,1.0300)">T</text><text transform="translate(767.4,945.6) scale(0.8000,1.0000)">e</text><text transform="translate(785.65,945.6) scale(1.2500,0.9400)">t</text><text transform="translate(801.67,945.6) scale(0.8444,0.9400)">h</text><text transform="translate(822.6,945.6) scale(0.8000,1.0000)">e</text><text transform="translate(840.04,945.6) scale(1.1200,1.0000)">r</text><text transform="translate(855.4,945.6) scale(1.0667,0.9400)">i</text><text transform="translate(866.73,945.6) scale(0.7556,1.0000)">n</text><text transform="translate(884.2,945.6) scale(0.8000,1.0000)">g</text></g>
</svg>
</body></html>
